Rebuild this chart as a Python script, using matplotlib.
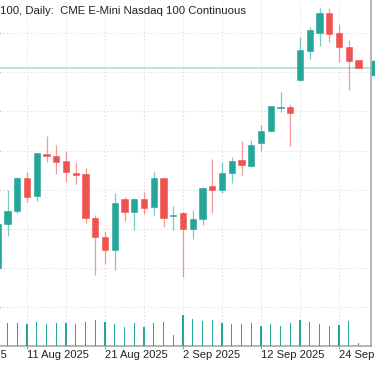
import matplotlib
matplotlib.use("Agg")
import matplotlib.pyplot as plt
from matplotlib.patches import Rectangle
import matplotlib.transforms as mtransforms

# ---------------- data ----------------
dates = ["6 Aug", "7 Aug", "8 Aug", "11 Aug", "12 Aug", "13 Aug", "14 Aug", "15 Aug",
         "18 Aug", "19 Aug", "20 Aug", "21 Aug", "22 Aug", "25 Aug", "26 Aug", "27 Aug",
         "28 Aug", "29 Aug", "1 Sep", "2 Sep", "3 Sep", "4 Sep", "5 Sep", "8 Sep",
         "9 Sep", "10 Sep", "11 Sep", "12 Sep", "15 Sep", "16 Sep", "17 Sep", "18 Sep",
         "19 Sep", "22 Sep", "23 Sep", "24 Sep", "25 Sep", "26 Sep"]
opens = [23249, 23531, 23616, 23827, 23712, 23976, 23967, 23932, 23852, 23850, 23567, 23449,
         23364, 23689, 23605, 23691, 23639, 23823, 23584, 23601, 23499, 23561, 23772, 23750,
         23857, 23940, 23900, 24047, 24127, 24275, 24277, 24451, 24639, 24754, 24882, 24750,
         24664, 24577]
highs = [23535, 23748, 23831, 23865, 23985, 24093, 24036, 23997, 23925, 23891, 23588, 23488,
         23731, 23701, 23695, 23737, 23861, 23823, 23646, 23609, 23620, 23769, 23944, 23925,
         23957, 24061, 24068, 24164, 24288, 24377, 24296, 24728, 24788, 24910, 24910, 24809,
         24707, 24580]
lows = [23230, 23456, 23599, 23673, 23680, 23929, 23850, 23797, 23786, 23539, 23205, 23273,
        23237, 23552, 23492, 23593, 23588, 23513, 23492, 23194, 23433, 23522, 23603, 23731,
        23795, 23844, 23898, 23999, 24120, 24245, 24029, 24445, 24586, 24669, 24692, 24568,
        24387, 24526]
closes = [23531, 23614, 23827, 23705, 23983, 23965, 23927, 23865, 23846, 23571, 23446, 23364,
          23667, 23605, 23691, 23631, 23823, 23567, 23588, 23497, 23563, 23761, 23750, 23857,
          23934, 23908, 24034, 24123, 24285, 24278, 24242, 24643, 24771, 24882, 24744, 24664,
          24573, 24528]
volumes = [470, 460, 460, 440, 480, 440, 460, 460, 440, 480, 520, 480, 440, 380, 460, 380,
           460, 480, 220, 620, 540, 500, 520, 460, 440, 440, 460, 400, 440, 400, 460, 520,
           480, 440, 400, 420, 500, 60]
tick_labels = ["30 Jul 2025", "11 Aug 2025", "21 Aug 2025", "2 Sep 2025", "12 Sep 2025", "24 Sep 2025"]
tick_index = [-5, 3, 11, 19, 27, 35]
grid_index = [3, 7, 11, 15, 19, 23, 27, 31, 35]
price_levels = [23000, 23250, 23500, 23750, 24000, 24250, 24500, 24750]
title = "100, Daily:  CME E-Mini Nasdaq 100 Continuous"

# ---------------- style ----------------
UP = "#26a69a"
DOWN = "#ef5350"
GRID = "#dcdcdc"
AXC = "#a0a0a0"
FONT = "Liberation Sans"

W, H = 375, 366
fig = plt.figure(figsize=(W / 100, H / 100), dpi=100)
ax = fig.add_axes([0, 20 / H, 370.7 / W, 346 / H])
ax.set_xlim(0.23, 38.25)
ax.set_ylim(22750.6, 24962.9)

for s in ("top", "left"):
    ax.spines[s].set_visible(False)
for s in ("right", "bottom"):
    ax.spines[s].set_color(AXC)
    ax.spines[s].set_linewidth(1.1)

# grid
for gi in grid_index:
    ax.axvline(gi, color=GRID, lw=0.8, ls=(0, (1, 2)), zorder=0)
for pl in price_levels:
    ax.axhline(pl, color=GRID, lw=0.8, ls=(0, (1, 2)), zorder=0)

# ticks
ax.set_xticks([t for t in tick_index if t >= 0])
ax.set_xticklabels([])
ax.tick_params(axis="x", length=2, width=0.8, color=AXC, direction="out")
ax.yaxis.tick_right()
ax.set_yticks(price_levels)
ax.set_yticklabels([])
ax.tick_params(axis="y", length=2.5, width=0.8, color=AXC, direction="out")

# candles
min_body = 10
for i, (o, h, l, c) in enumerate(zip(opens, highs, lows, closes)):
    col = UP if c >= o else DOWN
    ax.vlines(i, l, h, color=col, lw=0.9, alpha=0.6, zorder=2)
    lo = min(o, c)
    hgt = max(abs(c - o), min_body)
    ax.bar(i, hgt, bottom=lo - (hgt - abs(c - o)) / 2, width=0.66, color=col,
           edgecolor=col, linewidth=0.4, zorder=3)

# current price line and label box
last = closes[-1]
ax.axhline(last, color=UP, lw=1.2, alpha=0.38, zorder=1)
trans = mtransforms.blended_transform_factory(ax.transAxes, ax.transData)
ax.add_patch(Rectangle((1.004, last - 42), 0.05, 84, transform=trans, color=UP,
                       clip_on=False, zorder=5))

# volume
ax2 = ax.twinx()
ax2.set_position(ax.get_position())
ax2.set_ylim(0, 6920)
ax2.set_xlim(ax.get_xlim())
ax2.bar(range(len(volumes)), volumes, width=0.15, color=UP, zorder=2)
ax2.set_yticks([])
for s in ax2.spines.values():
    s.set_visible(False)
ax2.tick_params(axis="both", length=0)

# x tick labels (left-aligned at tick)
for ti, lab in zip(tick_index, tick_labels):
    ax.annotate(lab, xy=(ti, 0), xycoords=("data", "axes fraction"),
                xytext=(0.3, -2.6), textcoords="offset points", ha="left", va="top",
                fontsize=8, family=FONT, color="#222222", annotation_clip=False)

fig.text(0.0, 1 - 10.5 / H, title, ha="left", va="center", fontsize=8.2,
         family=FONT, color="#222222")

fig.savefig("out.png", dpi=100)
